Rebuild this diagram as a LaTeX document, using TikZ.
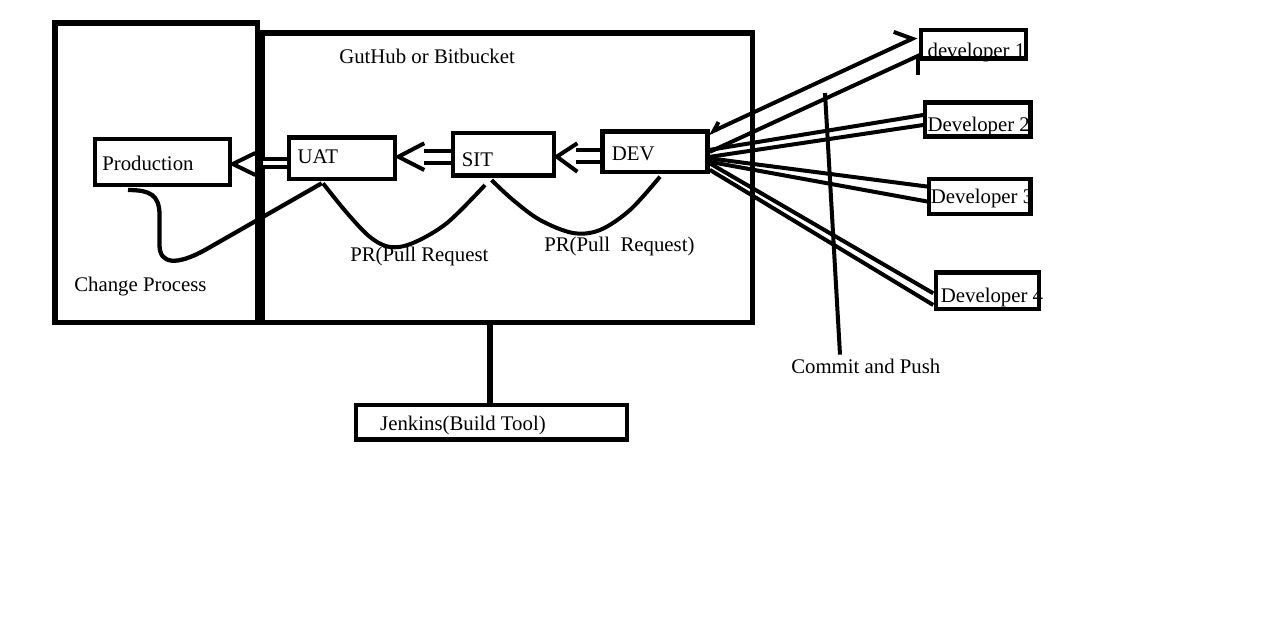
\documentclass[tikz,border=0pt]{standalone}
\usepackage{fontspec}
\setmainfont{Liberation Serif}
\usetikzlibrary{calc,arrows.meta}
\begin{document}
\begin{tikzpicture}[x=0.75pt,y=-0.75pt,
  font=\fontsize{15.6}{18}\selectfont,
  frame/.style={draw, line width=3.8pt, inner sep=0pt},
  bx/.style={draw, line width=3.5pt, inner sep=0pt},
  intext/.style n args={3}{label={[anchor=west,inner sep=0pt,xshift=#1,yshift=#2]west:#3}},
  txt/.style={anchor=base west, inner sep=0pt},
  ln/.style={line width=3pt},
  dbar/.style={line width=3pt, double=white, double distance=#1},
  chev/.style={line width=3pt, line join=miter}]
\useasboundingbox (0,0) rectangle (1264,630);
% frames
\node[frame, minimum width=151.9pt, minimum height=224.6pt] (chg) at (156.25,172.75) {};
\node[frame, minimum width=367.9pt, minimum height=217.1pt] (gh) at (507.25,177.75) {};
\node[txt] (ghtitle) at (339,63.5) {GutHub or Bitbucket};
\node[txt] (chgtitle) at (74,291.7) {Change Process};
% boxes
\node[bx, minimum width=101.25pt, minimum height=34.5pt, intext={7pt}{-0.9pt}{Production}] (prod) at (162.5,162) {};
\node[bx, minimum width=79.5pt, minimum height=31.1pt, intext={8pt}{1.5pt}{UAT}] (uat) at (342,158.25) {};
\node[bx, minimum width=75.75pt, minimum height=31.9pt, intext={8.2pt}{-3.9pt}{SIT}] (sit) at (503.5,154.25) {};
\node[bx, minimum width=78.75pt, minimum height=30.2pt, intext={8.6pt}{-1.2pt}{DEV}] (dev) at (655,151.85) {};
\node[bx, minimum width=203.25pt, minimum height=25.9pt, intext={19.7pt}{-2.3pt}{Jenkins(Build Tool)}] (jen) at (491.5,422.25) {};
\node[bx, minimum width=78.75pt, minimum height=21.2pt, intext={6.5pt}{-5.9pt}{developer 1}] (d1) at (973.5,44.2) {};
\node[bx, minimum width=79.1pt, minimum height=25.5pt, intext={3.5pt}{-5.6pt}{Developer 2}] (d2) at (977.75,119.5) {};
\node[bx, minimum width=76.1pt, minimum height=26.25pt, intext={3pt}{-1.6pt}{Developer 3}] (d3) at (979.75,196.5) {};
\node[bx, minimum width=77.25pt, minimum height=27.4pt, intext={5.2pt}{-4.7pt}{Developer 4}] (d4) at (987.5,290.75) {};
% labels
\node[txt] (pr1) at (350,262) {PR(Pull Request};
\node[txt] (pr2) at (544,252) {PR(Pull~~Request)};
\node[txt] (cmt) at (791,373.3) {Commit and Push};
% hollow arrows
\draw[dbar=5.5pt] ($(sit.west)+(0,2.9)$) -- ++(-27,0);
\draw[chev] ($(uat.east)+(27,-15)$) -- ($(uat.east)+(1,-1.5)$) -- ($(uat.east)+(27,11.75)$);
\draw[dbar=6pt] ($(dev.west)+(0,4.5)$) -- ++(-24,0);
\draw[chev] ($(sit.east)+(21,-11)$) -- ($(sit.east)+(0.5,2.4)$) -- ($(sit.east)+(21,17.5)$);
\draw[dbar=3.4pt] ($(uat.west)+(0,4.75)$) -- ++(-24,0);
\draw[chev] ($(prod.east)+(23,-9)$) -- ($(prod.east)+(0.5,2)$) -- ($(prod.east)+(23,13)$);
% curves
\draw[ln, line width=3.2pt] ($(prod.south)+(-34.5,2.7)$) .. controls (150,190) and (159.5,195) .. (159.5,215) -- (159.5,245) .. controls (159.5,264) and (176,266) .. (205,250) -- ($(uat.south)+(-20.3,2)$);
\draw[ln] plot[smooth, tension=0.55] coordinates {($(uat.south)+(-19,2)$) (347,213) (370,237) (390,247) (413,243) (447,223) ($(sit.south)+(-18.5,7.2)$)};
\draw[ln] plot[smooth, tension=0.55] coordinates {($(sit.south)+(-12,2.2)$) (513,200) (540,220) (573,233) (600,230) (630,210) ($(dev.south)+(5,2.4)$)};
% jenkins
\draw[line width=3.8pt] ($(jen.north)+(-1.5,0)$) -- ($(gh.south)+(-17.25,0)$);
% developer lines
\draw[ln, {Straight Barb[harpoon,swap,length=6pt,width=9pt]}-{Straight Barb[harpoon,length=10.5pt,width=21pt]}] ($(dev.north east)+(-1.5,4)$) -- ($(d1.west)+(-2,-7.5)$);
\draw[ln] (dev.east) -- ($(d1.west)+(1.3,10.8)$);
\draw[ln] ($(d1.south west)+(-1,-5)$) -- ++(0,19);
\draw[ln] ($(dev.east)+(0,-2)$) -- ($(d2.west)+(0.6,-4.5)$);
\draw[ln] ($(dev.east)+(0,5)$) -- ($(d2.west)+(0.6,5.5)$);
\draw[ln] ($(dev.east)+(0,6.5)$) -- ($(d3.west)+(1.6,-9.8)$);
\draw[ln] ($(dev.east)+(0,10)$) -- ($(d3.west)+(1.6,5.2)$);
\draw[ln] ($(dev.east)+(0,11.5)$) -- ($(d4.west)+(-0.4,2.55)$);
\draw[ln] ($(dev.east)+(0,18)$) -- ($(d4.west)+(-0.4,14.25)$);
% commit and push
\coordinate (cp) at (825,93);
\draw[ln] (cp) -- ($(cmt.north west)+(49,-4)$);
\end{tikzpicture}
\end{document}
